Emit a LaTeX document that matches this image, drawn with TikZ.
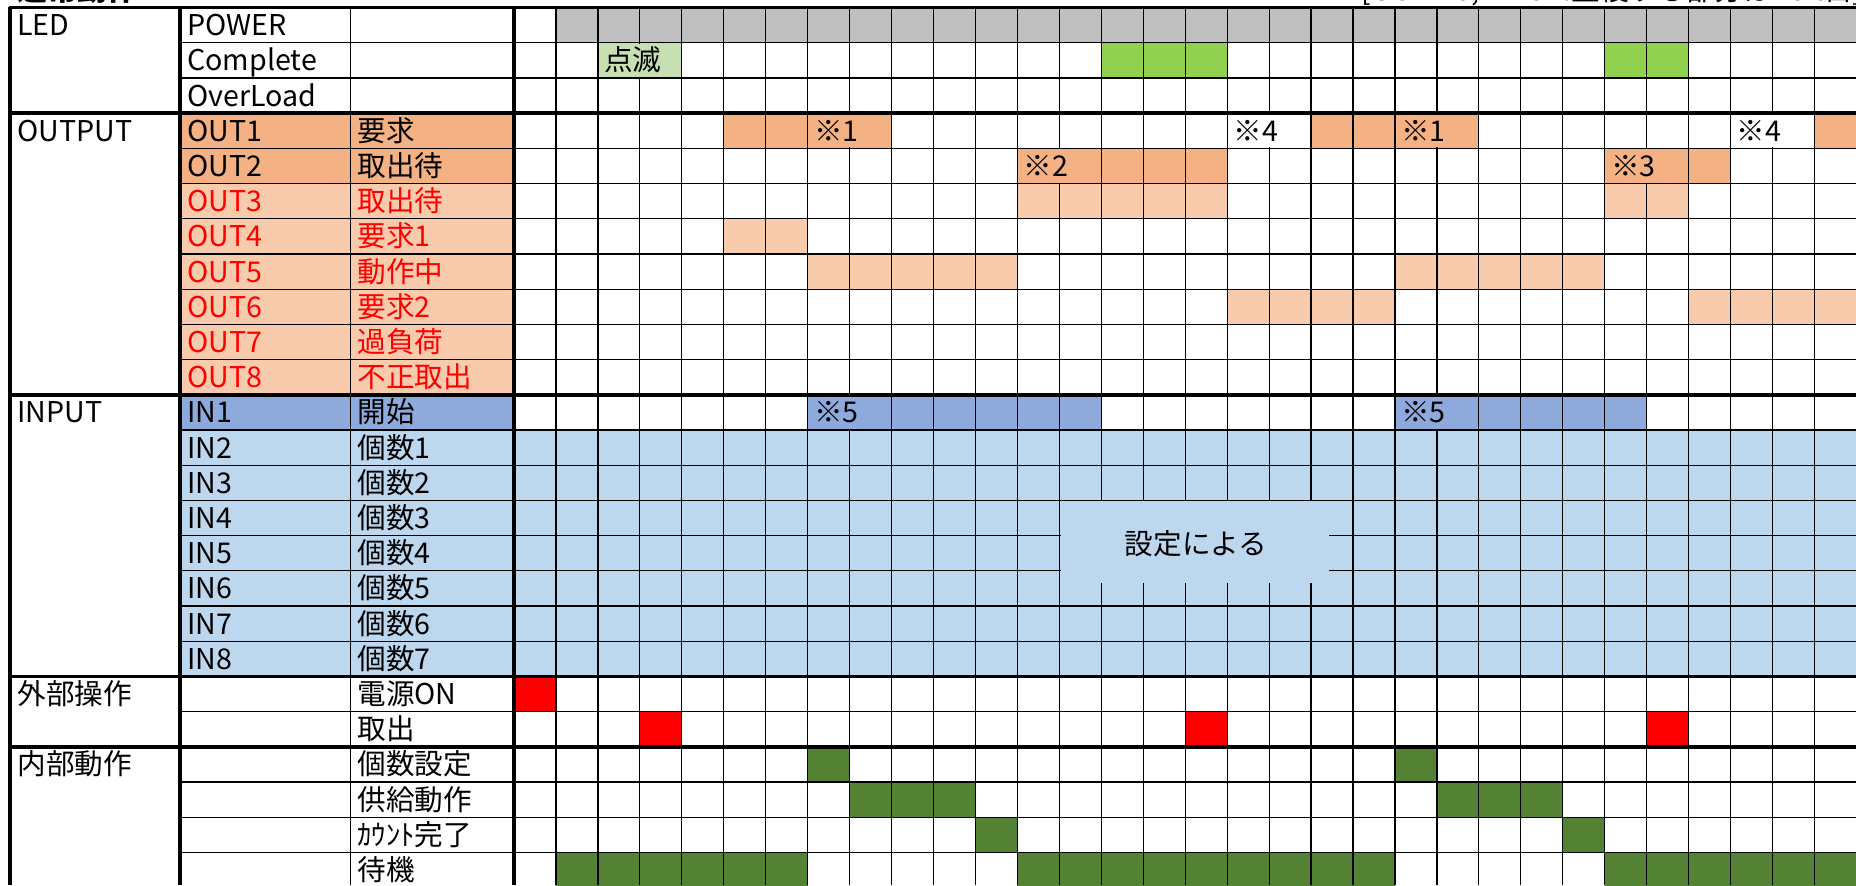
\documentclass[tikz,border=0pt]{standalone}
\usepackage{fontspec}
\setmainfont{Noto Sans CJK JP}
\definecolor{grayc}{HTML}{BFBFBF}
\definecolor{grn}{HTML}{92D050}
\definecolor{lgrn}{HTML}{C6E0B4}
\definecolor{org}{HTML}{F4B183}
\definecolor{lorg}{HTML}{F8CBAD}
\definecolor{dblu}{HTML}{8EA9DB}
\definecolor{lblu}{HTML}{BDD7EE}
\definecolor{redc}{HTML}{FF0000}
\definecolor{dgrn}{HTML}{548235}
\tikzset{
  txt/.style={anchor=base west, inner sep=0pt, font=\fontsize{14.3}{16}\selectfont},
  gridthin/.style={line width=0.6pt, black},
  gridthick/.style={line width=1.8pt, black},
}
% fill time cells: row, kstart, kend, colour
\newcommand\cf[4]{\fill[#4] ({514+41.95*(#2)},{7.5+35.2*(#1)}) rectangle ({514+41.95*(#3+1)},{7.5+35.2*(#1+1)});}
% hide a vertical grid segment: row, boundary k, colour
\newcommand\hid[3]{\fill[#3] ({514+41.95*(#2)-2},{7.5+35.2*(#1)+1}) rectangle ({514+41.95*(#2)+2},{7.5+35.2*(#1+1)-1});}
% fill label cells (col2+col3): row, colour
\newcommand\lf[2]{\fill[#2] (180,{7.5+35.2*(#1)}) rectangle (514,{7.5+35.2*(#1+1)});}
% text in time cell: row, k, text, name
\newcommand\tc[4]{\node[txt] (#4) at ({514+41.95*(#2)+6},{7.5+35.2*(#1+1)-7}) {#3};}
% label text: x, row, text, name, colour
\newcommand\lt[5]{\node[txt,text=#5] (#4) at (#1,{7.5+35.2*(#2+1)-7}) {#3};}
\begin{document}
\begin{tikzpicture}[x=0.5pt,y=-0.5pt]
\path[use as bounding box] (0,0) rectangle (1856,885);
\clip (0,0) rectangle (1856,885);
\fill[white] (0,0) rectangle (1856,885);

% ---------- label fills
\lf{3}{org}\lf{4}{org}
\foreach \r in {5,...,10} {\lf{\r}{lorg}}
\lf{11}{dblu}
\foreach \r in {12,...,18} {\lf{\r}{lblu}}

% ---------- time fills
\cf{0}{1}{31}{grayc}
\cf{1}{2}{3}{lgrn}\cf{1}{14}{16}{grn}\cf{1}{26}{27}{grn}
\cf{3}{5}{8}{org}\cf{3}{19}{22}{org}\cf{3}{31}{31}{org}
\cf{4}{12}{16}{org}\cf{4}{26}{28}{org}
\cf{5}{12}{16}{lorg}\cf{5}{26}{27}{lorg}
\cf{6}{5}{6}{lorg}
\cf{7}{7}{11}{lorg}\cf{7}{21}{25}{lorg}
\cf{8}{17}{20}{lorg}\cf{8}{28}{31}{lorg}
\cf{11}{7}{13}{dblu}\cf{11}{21}{26}{dblu}
\foreach \r in {12,...,18} {\cf{\r}{0}{31}{lblu}}
\cf{19}{0}{0}{redc}
\cf{20}{3}{3}{redc}\cf{20}{16}{16}{redc}\cf{20}{27}{27}{redc}
\cf{21}{7}{7}{dgrn}\cf{21}{21}{21}{dgrn}
\cf{22}{8}{10}{dgrn}\cf{22}{22}{24}{dgrn}
\cf{23}{11}{11}{dgrn}\cf{23}{25}{25}{dgrn}
\cf{24}{1}{6}{dgrn}\cf{24}{12}{20}{dgrn}\cf{24}{26}{31}{dgrn}

% ---------- thin grid
\foreach \b in {1,2,4,5,6,7,8,9,10,12,13,14,15,16,17,18,20,22,23,24}
  {\draw[gridthin] (180,{7.5+35.2*\b}) -- (1856,{7.5+35.2*\b});}
\draw[gridthin] (350.6,7.5) -- (350.6,885);
\foreach \k in {1,...,31}
  {\draw[gridthin] ({514+41.95*\k},7.5) -- ({514+41.95*\k},885);}

% ---------- segments hidden by overflowing text
\hid{1}{3}{lgrn}
\hid{3}{8}{org}\hid{3}{18}{white}\hid{3}{22}{org}\hid{3}{30}{white}
\hid{4}{13}{org}\hid{4}{27}{org}
\hid{11}{8}{dblu}\hid{11}{22}{dblu}

% ---------- text box
\fill[lblu] (1061,501.3) rectangle (1329,582.7);
\node[anchor=base, inner sep=0pt, font=\fontsize{14.3}{16}\selectfont] (setting) at (1196,554) {設定による};

% ---------- thick lines
\foreach \b in {0,3,11,19,21}
  {\draw[gridthick] (9,{7.5+35.2*\b}) -- (1856,{7.5+35.2*\b});}
\draw[gridthick] (10,6.6) -- (10,885);
\draw[gridthick] (180,6.6) -- (180,885);
\draw[gridthick] (514,6.6) -- (514,885);

% ---------- cut-off headings
\node[anchor=base west, inner sep=0pt, font=\fontsize{15}{16}\bfseries\selectfont] (title) at (17,0.5) {通常動作};
\node[anchor=base west, inner sep=0pt, font=\fontsize{14.3}{16}\selectfont] (note) at (1361,0.5) {[OUT7-8,INPUT:重複する部分は2bit目]};

% ---------- group labels
\lt{17}{0}{LED}{gLED}{black}
\lt{17}{3}{OUTPUT}{gOUT}{black}
\lt{17}{11}{INPUT}{gIN}{black}
\lt{17}{19}{外部操作}{gEXT}{black}
\lt{17}{21}{内部動作}{gINT}{black}

% ---------- signal names
\lt{187}{0}{POWER}{s0}{black}
\lt{187}{1}{Complete}{s1}{black}
\lt{187}{2}{OverLoad}{s2}{black}
\lt{187}{3}{OUT1}{s3}{black}\lt{357}{3}{要求}{d3}{black}
\lt{187}{4}{OUT2}{s4}{black}\lt{357}{4}{取出待}{d4}{black}
\lt{187}{5}{OUT3}{s5}{redc}\lt{357}{5}{取出待}{d5}{redc}
\lt{187}{6}{OUT4}{s6}{redc}\lt{357}{6}{要求1}{d6}{redc}
\lt{187}{7}{OUT5}{s7}{redc}\lt{357}{7}{動作中}{d7}{redc}
\lt{187}{8}{OUT6}{s8}{redc}\lt{357}{8}{要求2}{d8}{redc}
\lt{187}{9}{OUT7}{s9}{redc}\lt{357}{9}{過負荷}{d9}{redc}
\lt{187}{10}{OUT8}{s10}{redc}\lt{357}{10}{不正取出}{d10}{redc}
\lt{187}{11}{IN1}{s11}{black}\lt{357}{11}{開始}{d11}{black}
\lt{187}{12}{IN2}{s12}{black}\lt{357}{12}{個数1}{d12}{black}
\lt{187}{13}{IN3}{s13}{black}\lt{357}{13}{個数2}{d13}{black}
\lt{187}{14}{IN4}{s14}{black}\lt{357}{14}{個数3}{d14}{black}
\lt{187}{15}{IN5}{s15}{black}\lt{357}{15}{個数4}{d15}{black}
\lt{187}{16}{IN6}{s16}{black}\lt{357}{16}{個数5}{d16}{black}
\lt{187}{17}{IN7}{s17}{black}\lt{357}{17}{個数6}{d17}{black}
\lt{187}{18}{IN8}{s18}{black}\lt{357}{18}{個数7}{d18}{black}
\lt{357}{19}{電源ON}{d19}{black}
\lt{357}{20}{取出}{d20}{black}
\lt{357}{21}{個数設定}{d21}{black}
\lt{357}{22}{供給動作}{d22}{black}
\lt{357}{23}{ｶｳﾝﾄ完了}{d23}{black}
\lt{357}{24}{待機}{d24}{black}

% ---------- notes in time cells
\tc{1}{2}{点滅}{blink}
\tc{3}{7}{※1}{n1a}
\tc{3}{17}{※4}{n4a}
\tc{3}{21}{※1}{n1b}
\tc{3}{29}{※4}{n4b}
\tc{4}{12}{※2}{n2}
\tc{4}{26}{※3}{n3}
\tc{11}{7}{※5}{n5a}
\tc{11}{21}{※5}{n5b}
\end{tikzpicture}
\end{document}
